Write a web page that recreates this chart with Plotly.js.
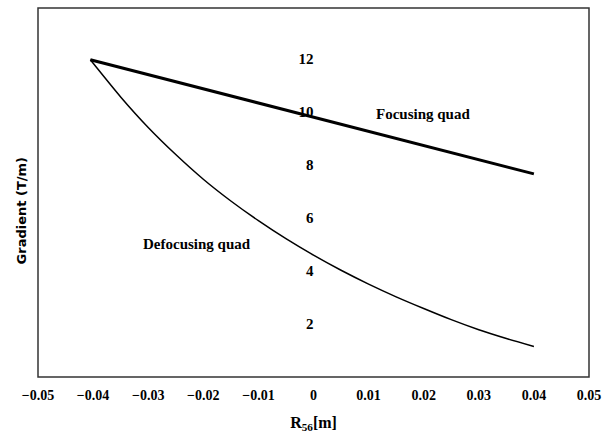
<!DOCTYPE html>
<html>
<head>
<meta charset="utf-8">
<script src="https://cdn.plot.ly/plotly-3.0.1.min.js"></script>
<style>html,body{margin:0;padding:0;background:#fff;}#chart{width:608px;height:443px;}</style>
</head>
<body>
<div id="chart"></div>
<script>
var focusingX = [-0.0405, 0.0400];
var focusingY = [11.95, 7.65];

var defocusingX = [-0.0405, -0.035, -0.03, -0.025, -0.02, -0.015, -0.01, -0.005, 0, 0.005, 0.01, 0.015, 0.02, 0.025, 0.03, 0.035, 0.04];
var defocusingY = [11.95, 10.55, 9.4, 8.38, 7.45, 6.63, 5.89, 5.21, 4.59, 4.02, 3.5, 3.02, 2.58, 2.16, 1.78, 1.45, 1.15];

var xTicks = [-0.05, -0.04, -0.03, -0.02, -0.01, 0, 0.01, 0.02, 0.03, 0.04, 0.05];
var xTickLabels = ['\u22120.05', '\u22120.04', '\u22120.03', '\u22120.02', '\u22120.01', '0', '0.01', '0.02', '0.03', '0.04', '0.05'];
var yTicks = [2, 4, 6, 8, 10, 12];
var yTickLabels = ['2', '4', '6', '8', '10', '12'];

var serifFamily = 'Liberation Serif, Times New Roman, serif';
function bold(arr) { return arr.map(function (s) { return '<b>' + s + '</b>'; }); }

var traces = [
  {x: focusingX, y: focusingY, mode: 'lines', line: {color: '#000', width: 3}, showlegend: false, hoverinfo: 'skip'},
  {x: defocusingX, y: defocusingY, mode: 'lines', line: {color: '#000', width: 1.5, shape: 'spline', smoothing: 0.6}, showlegend: false, hoverinfo: 'skip'}
];

var layout = {
  width: 608, height: 443,
  margin: {l: 38, r: 19, t: 8, b: 66},
  paper_bgcolor: '#fff', plot_bgcolor: '#fff',
  showlegend: false,
  xaxis: {
    range: [-0.05, 0.05], tickvals: xTicks, ticktext: bold(xTickLabels),
    showgrid: false, zeroline: false, showline: false, ticks: '',
    ticklabelstandoff: 8,
    tickfont: {family: serifFamily, size: 14, color: '#000'},
    title: {text: '<b>R<sub>56</sub>[m]</b>', font: {family: serifFamily, size: 16, color: '#000'}, standoff: 14}
  },
  yaxis: {
    range: [0, 13.9], tickvals: yTicks, ticktext: bold(yTickLabels),
    anchor: 'free', position: 0.5,
    showgrid: false, zeroline: false, showline: false, ticks: '',
    tickfont: {family: serifFamily, size: 15, color: '#000'}
  },
  shapes: [
    {type: 'rect', xref: 'paper', yref: 'paper', x0: 0, x1: 1, y0: 0, y1: 1, line: {color: '#333', width: 1.5}}
  ],
  annotations: [
    {xref: 'paper', yref: 'paper', x: -0.03, y: 0.45, xanchor: 'center', yanchor: 'middle', textangle: -90, showarrow: false,
     text: '<b>Gradient (T/m)</b>', font: {family: 'DejaVu Sans, sans-serif', size: 13, color: '#000'}},
    {xref: 'x', yref: 'y', x: 0.0198, y: 9.9, showarrow: false, xanchor: 'center', yanchor: 'middle',
     text: '<b>Focusing quad</b>', font: {family: serifFamily, size: 15, color: '#000'}},
    {xref: 'x', yref: 'y', x: -0.0211, y: 5.0, showarrow: false, xanchor: 'center', yanchor: 'middle',
     text: '<b>Defocusing quad</b>', font: {family: serifFamily, size: 15, color: '#000'}}
  ]
};

Plotly.newPlot('chart', traces, layout, {displayModeBar: false, staticPlot: true});
</script>
</body>
</html>
